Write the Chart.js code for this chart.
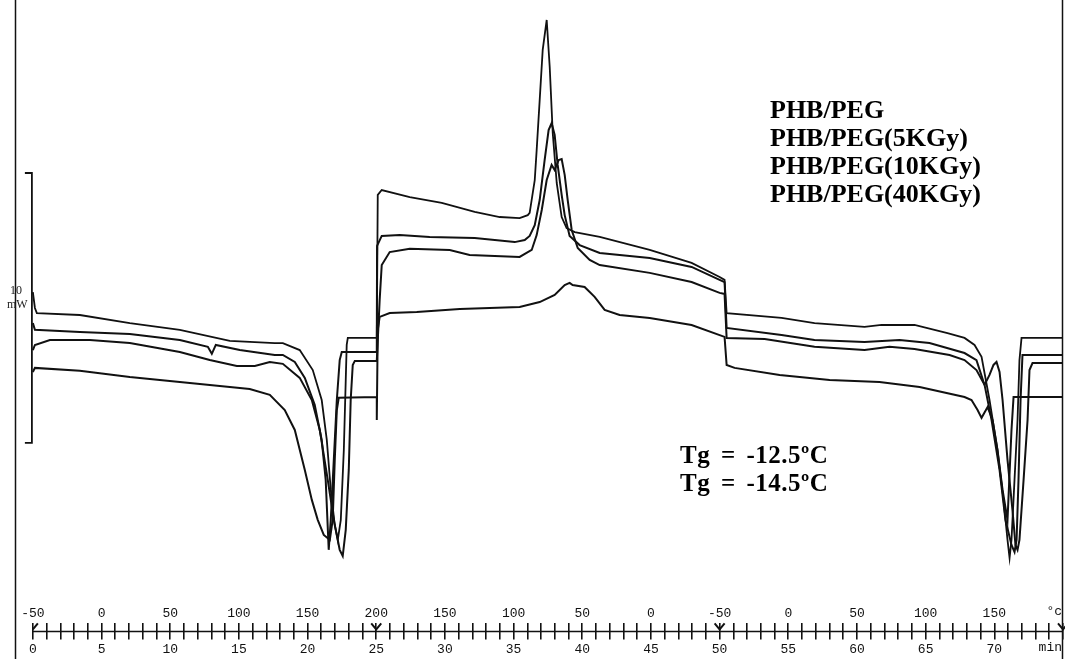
<!DOCTYPE html>
<html>
<head>
<meta charset="utf-8">
<script src="https://cdn.jsdelivr.net/npm/chart.js@4.4.1/dist/chart.umd.min.js"></script>
<style>
  html, body { margin: 0; padding: 0; background: #fff; }
  #wrap { position: relative; width: 1065px; height: 659px; overflow: hidden; }
  #dsc { position: absolute; left: 0; top: 0; }
  .note { position: absolute; font-family: "Liberation Serif", "Times New Roman", serif; font-weight: bold; color: #000; white-space: nowrap; }
  #legend { left: 770px; top: 96px; font-size: 26px; line-height: 28px; }
  #tg { left: 680px; top: 441px; font-size: 25px; line-height: 28px; word-spacing: 4px; letter-spacing: 0.5px; }
  #mw { position: absolute; left: 7px; top: 283px; width: 18px; font-family: "Liberation Serif", serif; font-size: 12px; line-height: 14px; text-align: center; color: #222; }
  .unit { position: absolute; right: 3px; font-family: "Liberation Mono", monospace; font-size: 13px; color: #111; }
</style>
</head>
<body>
<div id="wrap">
  <canvas id="dsc" width="1065" height="659"></canvas>
  <div id="legend" class="note">PHB/PEG<br>PHB/PEG(5KGy)<br>PHB/PEG(10KGy)<br>PHB/PEG(40KGy)</div>
  <div id="tg" class="note">Tg = -12.5ºC<br>Tg = -14.5ºC</div>
  <div id="mw">10<br>mW</div>
  <div class="unit" style="top:604px">°c</div>
  <div class="unit" style="top:640px">min</div>
</div>
<script>
// DSC runs: [time (min), heat flow (mW, arbitrary zero)]
const phbPeg = [[0,5.59],[0.15,5.0],[0.29,4.81],[3.42,4.74],[7.06,4.44],[10.7,4.19],[14.34,3.78],[17.61,3.7],[18.2,3.7],[19.43,3.44],[20.38,2.7],[21.03,1.59],[21.4,0.11],[21.69,-1.74],[21.98,-3.04],[22.2,-3.59],[22.42,-2.85],[22.64,-0.26],[22.78,2.33],[22.85,3.63],[22.93,3.89],[25.04,3.89],[25.11,9.19],[25.4,9.37],[27.44,9.11],[29.77,8.89],[32.17,8.56],[33.99,8.37],[35.44,8.33],[36.03,8.44],[36.17,8.52],[36.54,9.74],[36.68,10.85],[36.9,12.7],[37.12,14.56],[37.41,15.67],[37.63,13.93],[37.85,11.48],[38.14,9.63],[38.5,8.37],[38.86,7.96],[39.45,7.81],[41.27,7.63],[44.91,7.15],[47.96,6.67],[50,6.15],[50.36,6.04],[50.51,4.81],[54.51,4.63],[56.91,4.44],[60.55,4.3],[61.79,4.37],[64.19,4.37],[66.59,4.07],[67.83,3.89],[68.56,3.63],[69.07,3.19],[69.65,1.59],[70.23,-0.26],[70.67,-2.11],[70.96,-3.59],[71.11,-4.26],[71.25,-3.59],[71.47,-1.37],[71.69,0.85],[71.83,3.07],[71.98,3.89],[74.96,3.89]];
const phbPeg5 = [[0,4.44],[0.15,4.19],[3.42,4.11],[7.06,4.04],[10.7,3.81],[12.74,3.56],[13.03,3.3],[13.32,3.63],[15.07,3.44],[17.61,3.26],[18.2,3.26],[19.07,3.0],[19.8,2.41],[20.52,1.41],[21.03,0.11],[21.32,-1.37],[21.54,-3.96],[21.69,-2.85],[21.91,-0.63],[22.13,1.59],[22.34,3.07],[22.49,3.37],[25.04,3.37],[25.06,7.3],[25.4,7.67],[26.71,7.7],[28.89,7.63],[32.17,7.59],[35.08,7.44],[35.81,7.52],[36.17,7.67],[36.54,8.07],[36.9,9.0],[37.26,10.48],[37.55,11.59],[37.77,11.85],[37.99,11.41],[38.21,10.3],[38.5,9.19],[38.72,8.44],[39.08,7.67],[39.81,7.33],[41.27,7.04],[44.91,6.85],[47.96,6.52],[50,6.04],[50.36,5.96],[50.51,4.26],[54.51,4.0],[56.91,3.81],[60.55,3.74],[63.1,3.81],[65.28,3.7],[67.83,3.33],[68.7,3.07],[69.29,2.15],[69.8,0.85],[70.38,-1.0],[70.81,-2.85],[71.25,-3.78],[71.47,-4.04],[71.62,-3.59],[71.76,-1.37],[71.91,1.59],[72.05,3.26],[74.96,3.26]];
const phbPeg10 = [[0,3.44],[0.15,3.63],[1.24,3.81],[4.15,3.81],[7.06,3.7],[10.7,3.37],[12.88,3.07],[14.85,2.85],[16.16,2.85],[17.25,3.0],[18.2,2.93],[19.43,2.41],[20.31,1.59],[20.89,0.48],[21.47,-1.37],[21.91,-2.85],[22.34,-3.96],[22.56,-4.19],[22.78,-3.22],[23.0,-1.0],[23.14,1.59],[23.29,2.89],[23.44,3.04],[25.04,3.04],[25.25,5.3],[25.4,6.59],[25.98,7.07],[27.44,7.19],[30.35,7.15],[31.8,6.96],[35.44,6.89],[36.32,7.15],[36.68,7.7],[37.05,8.63],[37.41,9.74],[37.77,10.3],[37.99,10.11],[38.28,10.48],[38.5,10.52],[38.72,9.93],[38.94,9.0],[39.23,7.89],[39.67,7.22],[40.54,6.78],[41.27,6.59],[44.91,6.3],[47.96,5.96],[50,5.56],[50.36,5.52],[50.51,3.89],[53.28,3.85],[56.91,3.56],[60.55,3.44],[62.37,3.56],[64.19,3.48],[66.74,3.26],[67.83,3.07],[68.7,2.7],[69.29,2.15],[69.65,2.52],[69.94,2.89],[70.16,3.0],[70.38,2.63],[70.6,1.59],[70.96,-0.63],[71.32,-2.48],[71.54,-3.78],[71.69,-3.96],[71.83,-3.59],[72.13,-1.37],[72.42,0.85],[72.56,2.7],[72.78,2.96],[74.96,2.96]];
const phbPeg40 = [[0,2.63],[0.15,2.78],[3.42,2.67],[7.06,2.44],[10.7,2.26],[14.34,2.07],[15.79,2.0],[17.25,1.78],[18.34,1.22],[19.07,0.48],[19.8,-1.0],[20.31,-2.11],[20.74,-2.85],[21.18,-3.41],[21.62,-3.59],[21.83,-2.85],[21.98,-0.63],[22.13,1.22],[22.27,1.67],[25.04,1.7],[25.04,0.85],[25.11,4.19],[25.25,4.67],[25.98,4.81],[27.95,4.85],[31.08,4.96],[35.44,5.04],[36.9,5.22],[37.99,5.48],[38.72,5.85],[39.08,5.93],[39.3,5.85],[40.17,5.78],[40.9,5.41],[41.63,4.93],[42.72,4.74],[44.91,4.63],[47.96,4.37],[50.36,3.93],[50.51,2.89],[51.09,2.78],[54.37,2.52],[58.01,2.33],[61.64,2.26],[64.56,2.07],[67.83,1.7],[68.34,1.59],[68.78,1.22],[69.07,0.93],[69.51,1.33],[69.87,0.85],[70.23,-0.26],[70.6,-1.74],[70.96,-2.85],[71.25,0.48],[71.4,1.7],[74.96,1.7]];

// 10 mW scale bracket
const scaleBar = [[-0.58,10],[-0.07,10],[-0.07,0],[-0.58,0]];

// ruler: minutes below, program temperature (°C) above
const minuteTicks = Array.from({length: 76}, (_, i) => i);
const timeTicks   = [0,5,10,15,20,25,30,35,40,45,50,55,60,65,70];
const tempLabels  = ['-50','0','50','100','150','200','150','100','50','0','-50','0','50','100','150'];
const segmentMarks = [0,25,50,75];

const INK = '#111';
const MONO = { family: 'Liberation Mono', size: 13 };

// ── frame lines, ruler bar, segment arrows ─────────
const rulerPlugin = {
  id: 'ruler',
  afterDraw(chart) {
    const { ctx, chartArea, scales: { x } } = chart;
    const yLine = x.top + x.options.grid.tickLength / 2;
    ctx.save();
    ctx.strokeStyle = INK;
    ctx.lineWidth = 1.5;
    ctx.beginPath();
    ctx.moveTo(chartArea.left + 0.5, 0);
    ctx.lineTo(chartArea.left + 0.5, chart.height);
    ctx.moveTo(chartArea.right - 0.5, 0);
    ctx.lineTo(chartArea.right - 0.5, chart.height);
    ctx.moveTo(x.getPixelForValue(0), yLine);
    ctx.lineTo(x.right, yLine);
    ctx.stroke();

    ctx.lineWidth = 2;
    segmentMarks.forEach((m, i) => {
      const p = x.getPixelForValue(m);
      ctx.beginPath();
      if (i > 0) { ctx.moveTo(p - 5, yLine - 8); ctx.lineTo(p, yLine - 2); }
      else ctx.moveTo(p, yLine - 2);
      ctx.lineTo(p + 5, yLine - 8);
      ctx.stroke();
    });
    ctx.restore();
  }
};

const curve = (label, pts, width) => ({
  label,
  data: pts.map(([t, q]) => ({ x: t, y: q })),
  borderColor: INK,
  borderWidth: width,
  pointRadius: 0,
  tension: 0,
  fill: false
});

new Chart(document.getElementById('dsc'), {
  type: 'line',
  data: {
    datasets: [
      curve('PHB/PEG', phbPeg, 1.8),
      curve('PHB/PEG(5KGy)', phbPeg5, 2),
      curve('PHB/PEG(10KGy)', phbPeg10, 2),
      curve('PHB/PEG(40KGy)', phbPeg40, 2),
      curve('10 mW', scaleBar, 1.8)
    ]
  },
  options: {
    responsive: false,
    animation: false,
    devicePixelRatio: 1,
    layout: { padding: { left: 15, right: 2, top: 0, bottom: 0 } },
    plugins: { legend: { display: false }, tooltip: { enabled: false } },
    scales: {
      xT: {
        type: 'linear', position: 'bottom', weight: 0,
        min: -1.3, max: 75,
        afterBuildTicks: s => { s.ticks = timeTicks.map(v => ({ value: v })); },
        grid: { display: false, drawTicks: false },
        border: { display: false },
        ticks: { autoSkip: false, maxRotation: 0, padding: 2, color: INK, font: MONO,
                 callback: (v, i) => tempLabels[i] }
      },
      x: {
        type: 'linear', position: 'bottom', weight: 1,
        min: -1.3, max: 75,
        afterBuildTicks: s => { s.ticks = minuteTicks.map(v => ({ value: v })); },
        grid: { drawOnChartArea: false, drawTicks: true, tickLength: 16, color: INK, lineWidth: 1.6 },
        border: { display: false },
        ticks: { autoSkip: false, maxRotation: 0, padding: 2, color: INK, font: MONO,
                 callback: v => timeTicks.includes(v) ? String(v) : '' }
      },
      y: { display: false, min: -5.96, max: 16.41 }
    }
  },
  plugins: [rulerPlugin]
});
</script>
</body>
</html>
